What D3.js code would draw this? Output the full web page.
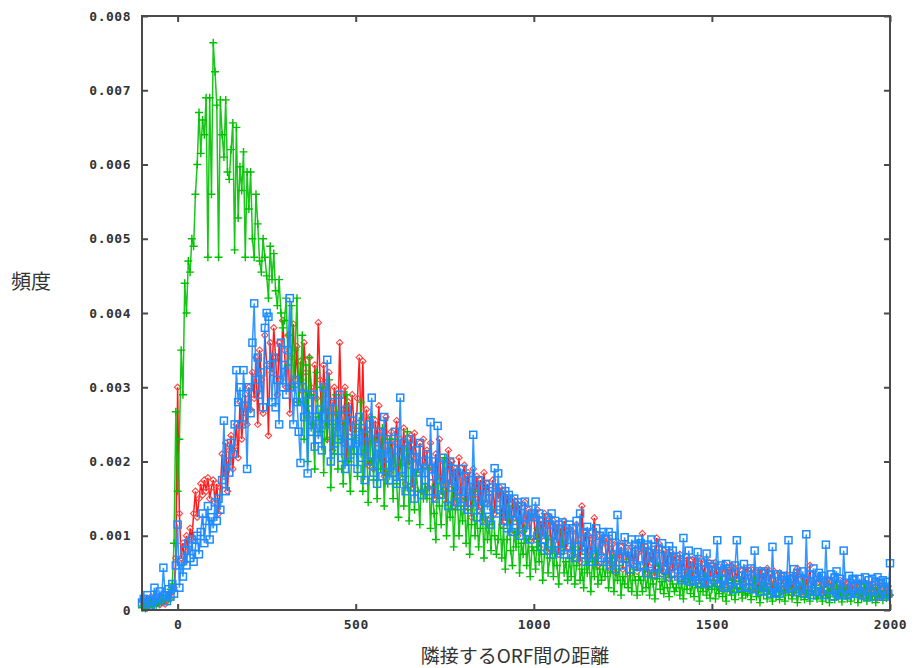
<!DOCTYPE html>
<html><head><meta charset="utf-8">
<script src="https://cdn.jsdelivr.net/npm/d3@7"></script>
<style>body{margin:0;background:#fff}svg{display:block}</style>
</head><body>
<script>
// x positions: start and step of the sampled distances
const xStart = -100, xStep = 5;
const valueUnit = 1e-5; // values below are in units of 0.00001
const xTicks = [0, 500, 1000, 1500, 2000];
const yTicks = [0, 0.001, 0.002, 0.003, 0.004, 0.005, 0.006, 0.007, 0.008];

const greenVals = [
3,6,2,8,4,10,5,12,7,9,14,10,16,12,20,15,28,35,90,267,
160,230,350,290,440,400,470,455,500,490,560,600,670,615,660,640,690,475,690,560,
764,725,680,475,687,640,610,687,590,580,620,656,485,650,528,597,565,617,475,590,
540,590,500,475,560,520,470,455,500,475,450,420,490,445,480,430,410,445,400,380,
390,420,330,370,410,300,350,420,280,310,370,230,330,200,340,290,250,190,320,260,
240,300,185,270,230,310,165,250,210,290,190,265,230,170,250,290,200,160,230,210,
250,180,225,280,160,215,240,145,200,260,175,230,150,215,190,245,140,200,170,230,
200,150,230,170,125,195,215,140,180,240,120,170,200,135,185,160,115,190,150,170,
150,190,110,165,130,95,180,140,115,160,205,100,145,125,170,85,135,155,100,140,
120,150,90,135,75,115,160,100,130,85,110,145,70,125,95,115,80,135,100,75,
95,130,70,110,55,95,140,80,60,105,85,120,50,90,75,110,60,95,45,85,
80,55,110,65,90,40,75,100,50,70,95,45,85,60,35,75,105,50,65,40,
70,45,85,35,60,90,40,55,30,75,50,65,25,70,45,80,35,55,40,60,
45,65,30,50,70,25,55,40,60,20,45,35,65,30,50,25,55,40,20,45,
40,25,55,30,45,20,50,35,15,42,60,28,38,22,48,30,18,44,35,25,
30,45,20,38,15,42,28,50,22,35,18,40,30,12,36,25,45,20,32,16,
28,40,15,32,22,45,18,30,12,36,25,20,40,14,30,24,38,16,28,20,
22,35,14,28,40,18,25,10,32,20,36,15,27,22,12,34,18,30,14,25,
26,12,32,20,38,15,24,30,10,28,18,35,14,22,30,12,26,20,33,15,
20,30,12,25,16,34,10,28,22,14,32,18,24,11,30,20,15,27,12,22,
18,26,10,30,15,22,35,12,20,28,14,24,10,30,18,22,13,26,16,20,
20];

const redVals = [
12,8,15,5,10,18,6,12,9,14,7,16,10,8,13,20,15,25,30,70,
300,130,70,90,65,100,80,110,95,130,160,125,150,170,155,175,160,178,150,165,
175,145,170,130,165,210,180,225,160,215,235,190,220,250,205,280,230,265,290,250,
300,270,320,285,340,250,350,310,265,370,330,235,360,320,380,340,290,360,310,390,
350,300,370,265,340,385,310,355,280,335,295,360,320,260,340,300,250,330,285,387,
310,250,330,290,230,320,280,215,300,265,245,360,270,225,300,200,280,240,290,250,
230,285,340,240,335,210,270,195,260,230,190,255,225,275,205,240,180,260,215,185,
240,195,225,255,180,230,200,245,170,220,195,235,165,238,205,185,225,160,230,195,
215,165,225,190,150,210,180,230,155,200,175,145,215,170,200,140,190,160,205,150,
180,195,140,185,160,125,190,150,180,135,175,120,185,145,170,157,125,175,130,165,
150,165,115,160,120,155,135,105,150,125,145,100,140,120,105,145,115,135,95,130,
125,95,135,85,120,100,130,80,115,125,80,120,95,115,75,110,90,120,80,105,
110,80,105,70,115,95,65,140,85,105,70,100,75,95,124,70,60,100,75,95,
90,65,95,55,88,75,50,92,68,85,55,90,66,80,48,85,60,82,52,78,
80,103,55,85,50,78,64,82,45,97,90,60,48,80,58,74,42,78,55,72,
70,45,75,52,68,40,72,50,66,38,70,48,64,35,68,45,62,32,65,44,
60,38,64,42,58,30,50,62,36,56,40,60,30,55,42,58,28,53,36,56,
50,32,55,28,52,40,26,54,35,50,30,56,38,48,25,52,36,30,50,34,
42,26,48,30,44,22,46,28,56,34,24,44,20,42,30,60,24,40,28,42,
38,44,22,40,30,42,20,38,26,42,32,18,40,26,38,22,36,20,38,28,
34,38,20,36,26,18,36,24,34,20,36,24,32,16,34,26,18,33,22,32,
20];

const blueVals = [
10,15,8,20,12,6,14,30,10,18,25,15,57,20,12,28,18,35,22,60,
115,30,65,45,80,60,90,70,95,65,85,100,75,105,130,90,120,140,95,125,
110,145,120,150,135,175,255,160,200,185,225,210,250,323,280,300,250,323,275,190,
300,265,360,413,310,340,290,320,273,380,400,395,330,280,340,273,310,250,360,300,
330,290,350,420,300,250,310,280,240,198,300,260,290,184,270,240,290,220,260,230,
270,215,300,250,337,260,200,280,215,260,230,290,205,250,190,270,225,200,255,215,
240,190,260,205,245,175,235,200,250,286,185,230,170,240,210,180,260,195,230,175,
220,185,240,170,215,286,180,225,160,210,230,165,205,150,215,185,225,155,200,175,
210,160,253,180,200,150,248,175,155,205,170,195,140,200,165,190,145,185,160,140,
190,150,180,135,175,145,236,160,125,175,140,165,120,170,135,160,115,165,191,130,
184,135,165,120,160,110,155,130,105,150,120,145,100,140,115,146,105,135,95,130,
125,146,100,130,85,120,95,125,80,115,130,75,120,90,115,80,118,75,110,85,
115,75,110,70,120,85,130,75,105,65,112,80,65,105,75,110,65,100,70,105,
95,65,105,60,100,75,55,128,72,85,60,98,70,82,55,95,62,88,58,95,
90,60,85,50,88,62,95,48,85,58,82,50,90,55,80,45,86,58,80,50,
72,45,68,40,97,50,42,80,38,66,48,40,78,36,64,45,38,76,35,62,
58,40,52,94,35,60,42,30,62,32,56,38,28,60,94,40,30,46,62,30,
52,30,56,28,80,34,52,25,50,30,52,26,48,22,85,30,24,48,22,46,
45,28,40,94,30,42,55,24,50,28,40,52,22,102,26,48,20,56,25,44,
50,24,46,20,88,28,38,48,18,44,52,22,42,20,80,28,20,46,22,42,
40,22,34,42,20,32,44,18,40,24,42,18,38,44,20,36,40,18,38,22,
63];

const W = 916, H = 668;
const pLeft = 142, pRight = 890, pTop = 16, pBottom = 610;

const svg = d3.select("body").append("svg").attr("width", W).attr("height", H);

const x = d3.scaleLinear().domain([-100, 2000]).range([pLeft, pRight]);
const y = d3.scaleLinear().domain([0, 0.008]).range([pBottom, pTop]);

function toPoints(vals) {
  return vals.map((v, i) => ({ x: xStart + i * xStep, y: v * valueUnit }));
}

const series = [
  { name: "red", color: "#ff0000", marker: "diamond", pts: toPoints(redVals) },
  { name: "green", color: "#00c000", marker: "plus", pts: toPoints(greenVals) },
  { name: "blue", color: "#1e8cff", marker: "square", pts: toPoints(blueVals) }
];

const line = d3.line().x(d => x(d.x)).y(d => y(d.y));

series.forEach(s => {
  const g = svg.append("g");
  g.append("path").datum(s.pts).attr("d", line)
    .attr("fill", "none").attr("stroke", s.color).attr("stroke-width", 1.5).attr("opacity", 0.9);
  if (s.marker === "plus") {
    const sz = 4;
    g.selectAll("path.m").data(s.pts).enter().append("path")
      .attr("d", d => `M${x(d.x)-sz},${y(d.y)}H${x(d.x)+sz}M${x(d.x)},${y(d.y)-sz}V${y(d.y)+sz}`)
      .attr("stroke", s.color).attr("stroke-width", 1.4).attr("fill", "none");
  } else if (s.marker === "square") {
    const sz = 3.5;
    g.selectAll("rect.m").data(s.pts).enter().append("rect")
      .attr("x", d => x(d.x) - sz).attr("y", d => y(d.y) - sz)
      .attr("width", 2 * sz).attr("height", 2 * sz)
      .attr("fill", "none").attr("stroke", s.color).attr("stroke-width", 1.5);
  } else {
    const sz = 3.2;
    g.selectAll("path.m").data(s.pts).enter().append("path")
      .attr("d", d => `M${x(d.x)},${y(d.y)-sz}L${x(d.x)+sz},${y(d.y)}L${x(d.x)},${y(d.y)+sz}L${x(d.x)-sz},${y(d.y)}Z`)
      .attr("fill", "none").attr("stroke", "#ff4545").attr("stroke-width", 1.1);
  }
});

// frame
svg.append("rect").attr("x", pLeft).attr("y", pTop)
  .attr("width", pRight - pLeft).attr("height", pBottom - pTop)
  .attr("fill", "none").attr("stroke", "#4a4a4a").attr("stroke-width", 2);

const tickFont = "'DejaVu Sans Mono', monospace";
const yFmt = d => d === 0 ? "0" : d3.format(".3f")(d);
const xFmt = d3.format("d");

function styleAxis(g) {
  g.select(".domain").remove();
  g.selectAll(".tick line").attr("stroke", "#4a4a4a").attr("stroke-width", 2);
  g.selectAll(".tick text").attr("fill", "#333").style("font-family", tickFont)
    .style("font-size", "13px").style("font-weight", "bold").style("letter-spacing", "0.5px");
}

svg.append("g").attr("transform", `translate(0,${pBottom})`)
  .call(d3.axisBottom(x).tickValues(xTicks).tickSizeInner(-6).tickSizeOuter(0).tickPadding(10).tickFormat(xFmt))
  .call(styleAxis);
svg.append("g").attr("transform", `translate(0,${pTop})`)
  .call(d3.axisTop(x).tickValues(xTicks).tickSizeInner(-6).tickSizeOuter(0).tickFormat(""))
  .call(styleAxis);
svg.append("g").attr("transform", `translate(${pLeft},0)`)
  .call(d3.axisLeft(y).tickValues(yTicks).tickSizeInner(-6).tickSizeOuter(0).tickPadding(11).tickFormat(yFmt))
  .call(styleAxis);
svg.append("g").attr("transform", `translate(${pRight},0)`)
  .call(d3.axisRight(y).tickValues(yTicks).tickSizeInner(-6).tickSizeOuter(0).tickFormat(""))
  .call(styleAxis);

const labelFont = "'Noto Sans CJK JP', 'Noto Sans', sans-serif";
svg.append("text").attr("x", 31).attr("y", 289).attr("text-anchor", "middle")
  .style("font-family", labelFont).style("font-size", "20px").attr("fill", "#333").text("頻度");
svg.append("text").attr("x", 515).attr("y", 663).attr("text-anchor", "middle")
  .attr("dominant-baseline", "auto")
  .style("font-family", labelFont).style("font-size", "19px").attr("fill", "#333").text("隣接するORF間の距離");
</script>
</body></html>
